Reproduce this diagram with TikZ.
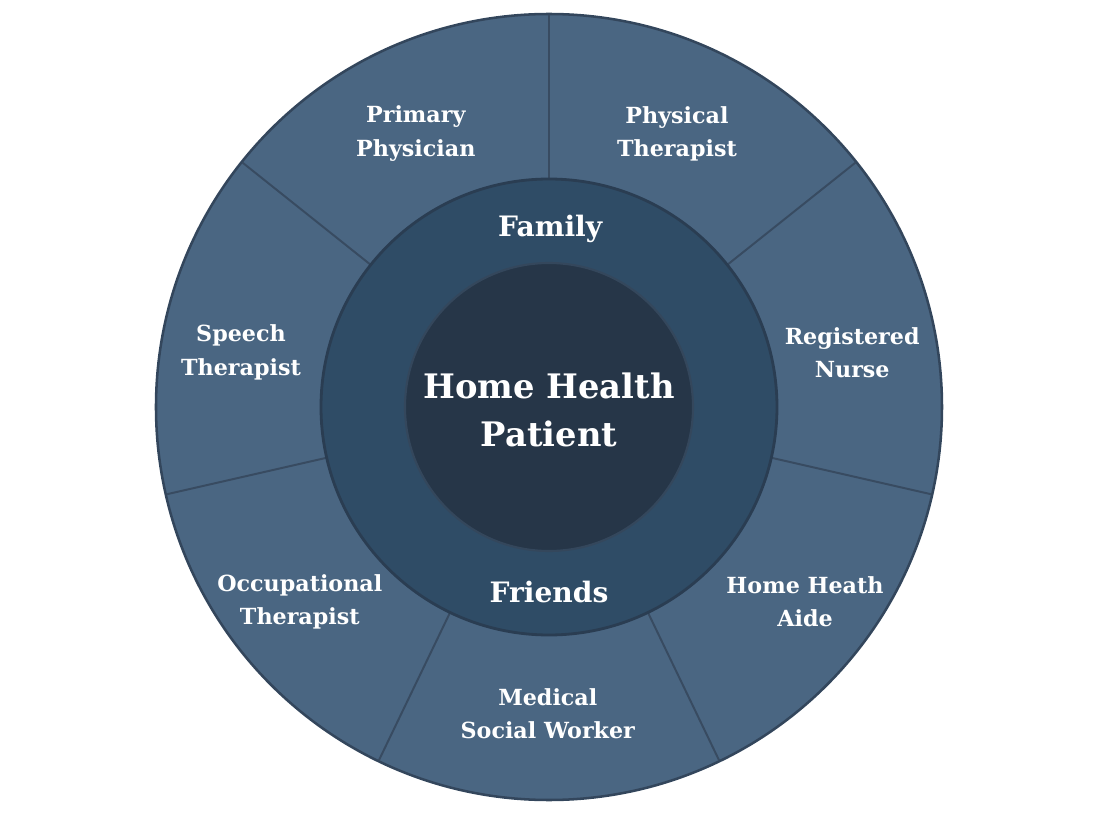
\documentclass[tikz,border=0pt]{standalone}
\usepackage{fontspec}
\setmainfont{DejaVu Serif}
\usepackage{tikz}
\usetikzlibrary{positioning}
\definecolor{ringout}{HTML}{4A6682}
\definecolor{ringoutline}{HTML}{33465C}
\definecolor{ringdiv}{HTML}{384B61}
\definecolor{ringmid}{HTML}{2F4C66}
\definecolor{ringmidline}{HTML}{2A3D52}
\definecolor{ringin}{HTML}{263648}
\definecolor{ringinline}{HTML}{34475C}

\begin{document}
\begin{tikzpicture}
	\tikzstyle{every node} = [text = white, align = center, font = \bfseries]
	\tikzstyle{role} = [font = \bfseries\fontsize{15.8}{24}\selectfont]
	\tikzstyle{circle} = [font = \bfseries\fontsize{20}{28}\selectfont]
	\tikzstyle{divider} = [draw = ringdiv, line width = 1.4pt]
\useasboundingbox (-13.725, -10.2) rectangle (13.775, 10.175);
	\path[fill = ringout, draw = ringoutline, line width = 1.8pt] (0, 0) circle (9.825);
	\path[divider] (90:5.7) -- (90:9.8);
	\path[divider] (38.57:5.7) -- (38.57:9.8);
	\path[divider] (-12.86:5.7) -- (-12.86:9.8);
	\path[divider] (-64.29:5.7) -- (-64.29:9.8);
	\path[divider] (-115.71:5.7) -- (-115.71:9.8);
	\path[divider] (-167.14:5.7) -- (-167.14:9.8);
	\path[divider] (141.43:5.7) -- (141.43:9.8);
	\path[fill = ringmid, draw = ringmidline, line width = 2pt] (0, 0) circle (5.7);
	\path[fill = ringin, draw = ringinline, line width = 1.5pt] (0, 0) circle (3.6);
\node[role] (primary) at (-3.33, 6.83) {Primary\\Physician};
\node[role] (physical) at (3.2, 6.83) {Physical\\Therapist};
\node[role] (nurse) at (7.58, 1.36) {Registered\\Nurse};
\node[role] (aide) at (6.4, -4.87) {Home Heath\\Aide};
\node[role] (social) at (-0.03, -7.67) {Medical\\Social Worker};
\node[role] (occupational) at (-6.23, -4.87) {Occupational\\Therapist};
\node[role] (speech) at (-7.7, 1.36) {Speech\\Therapist};
\node[circle] (family) at (0.03, 4.45) {Family};
\node[circle] (friends) at (0, -4.63) {Friends};
\node[font = \bfseries\fontsize{24}{34}\selectfont] (patient) at (0, -0.07) {Home Health\\Patient};
	\end{tikzpicture}
\end{document}
